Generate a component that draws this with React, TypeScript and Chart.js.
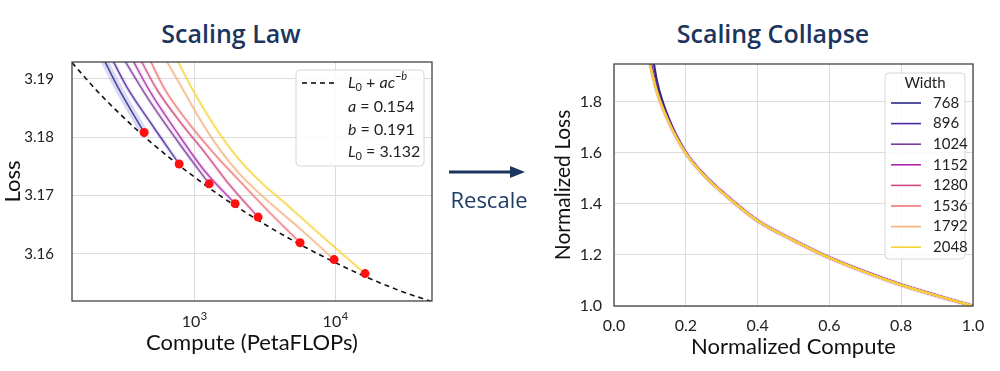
import React, { useEffect, useRef } from 'react';
import { Chart, registerables } from 'chart.js';
Chart.register(...registerables);

// ---------- shared ----------
const WIDTHS = ['768', '896', '1024', '1152', '1280', '1536', '1792', '2048'];
const COLORS = ['#2d2a87', '#4c2aa3', '#7b3a9e', '#ad2bad', '#cf4a82', '#ee7676', '#f2b07c', '#f5d334'];

// ---------- left chart: Scaling Law (compute in PetaFLOPs, loss) ----------
const CURVE_768 = [[212, 3.1950], [289, 3.1885], [442, 3.1808]];
const CURVE_896 = [[242, 3.1950], [335, 3.1885], [487, 3.1826], [783, 3.1754]];
const CURVE_1024 = [[289, 3.1950], [487, 3.1861], [796, 3.1787], [1278, 3.1720]];
const CURVE_1152 = [[335, 3.1950], [487, 3.1878], [733, 3.1813], [1197, 3.1741], [1953, 3.1686]];
const CURVE_1280 = [[382, 3.1950], [547, 3.1881], [796, 3.1826], [1197, 3.1773], [1800, 3.1717], [2844, 3.1663]];
const CURVE_1536 = [[449, 3.1950], [623, 3.1881], [937, 3.1821], [1409, 3.1770], [2120, 3.1724], [3459, 3.1670], [5647, 3.1619]];
const CURVE_1792 = [[574, 3.1950], [836, 3.1881], [1103, 3.1830], [1529, 3.1778], [2120, 3.1736], [3459, 3.1687], [5647, 3.1643], [9838, 3.1590]];
const CURVE_2048 = [[698, 3.1950], [968, 3.1883], [1339, 3.1826], [1953, 3.1770], [2942, 3.1724], [4600, 3.1683], [6900, 3.1645], [10500, 3.1606], [16324, 3.1566]];
const LAW_CURVES = [CURVE_768, CURVE_896, CURVE_1024, CURVE_1152, CURVE_1280, CURVE_1536, CURVE_1792, CURVE_2048];

const OPT_C = [442, 783, 1278, 1953, 2844, 5647, 9838, 16324];
const OPT_L = [3.1808, 3.1754, 3.1720, 3.1686, 3.1663, 3.1619, 3.1590, 3.1566];

const FIT_C = [136, 200, 300, 500, 700, 1000, 1500, 2000, 3000, 5000, 7000, 10000, 15000, 20000, 30000, 48700];
const FIT_L = [3.1928, 3.1882, 3.1839, 3.1790, 3.1761, 3.1732, 3.1701, 3.1681, 3.1654, 3.1623, 3.1604, 3.1585, 3.1565, 3.1552, 3.1535, 3.1518];

const LAW_X_TICKS = [1000, 10000];
const LAW_Y_TICKS = [3.16, 3.17, 3.18, 3.19];

// ---------- right chart: Scaling Collapse ----------
const X_NORM = [0.10, 0.12, 0.15, 0.20, 0.25, 0.30, 0.40, 0.50, 0.60, 0.70, 0.80, 0.90, 1.00];
const NL_768 = [2.05, 1.88, 1.745, 1.603, 1.516, 1.449, 1.335, 1.258, 1.19, 1.134, 1.084, 1.041, 1.0];
const NL_896 = [1.97, 1.85, 1.735, 1.601, 1.515, 1.449, 1.335, 1.258, 1.19, 1.134, 1.084, 1.041, 1.0];
const NL_1024 = [1.96, 1.845, 1.733, 1.601, 1.515, 1.449, 1.335, 1.258, 1.19, 1.133, 1.083, 1.04, 1.0];
const NL_1152 = [1.955, 1.842, 1.731, 1.6, 1.515, 1.448, 1.335, 1.258, 1.189, 1.133, 1.083, 1.04, 1.0];
const NL_1280 = [1.95, 1.84, 1.73, 1.6, 1.514, 1.448, 1.334, 1.257, 1.189, 1.133, 1.083, 1.04, 1.0];
const NL_1536 = [1.948, 1.838, 1.729, 1.599, 1.514, 1.448, 1.334, 1.257, 1.189, 1.133, 1.083, 1.04, 1.0];
const NL_1792 = [1.946, 1.837, 1.728, 1.599, 1.514, 1.447, 1.334, 1.257, 1.189, 1.132, 1.083, 1.04, 1.0];
const NL_2048 = [1.945, 1.836, 1.728, 1.598, 1.513, 1.447, 1.334, 1.257, 1.189, 1.132, 1.082, 1.04, 1.0];
const COLLAPSE = [NL_768, NL_896, NL_1024, NL_1152, NL_1280, NL_1536, NL_1792, NL_2048];
const COLLAPSE_Y_TICKS = [1.0, 1.2, 1.4, 1.6, 1.8];

const FONT = 'Lato, "Noto Sans", sans-serif';
const NAVY = '#1c355e';
const GRID = '#dcdcdc';
const FRAME = '#444444';

function hexA(hex: string, a: number) {
  const n = parseInt(hex.slice(1), 16);
  return `rgba(${(n >> 16) & 255},${(n >> 8) & 255},${n & 255},${a})`;
}

type Seg = { t: string; i?: boolean; sub?: boolean; sup?: boolean };
function drawRich(ctx: CanvasRenderingContext2D, x: number, y: number, segs: Seg[], size: number) {
  let cx = x;
  ctx.textBaseline = 'middle';
  ctx.textAlign = 'left';
  for (const s of segs) {
    const small = s.sub || s.sup;
    const fs = small ? Math.round(size * 0.7) : size;
    ctx.font = `${s.i ? 'italic ' : ''}${fs}px ${FONT}`;
    const dy = s.sub ? size * 0.28 : s.sup ? -size * 0.4 : 0;
    ctx.fillText(s.t, cx, y + dy);
    cx += ctx.measureText(s.t).width;
  }
}

function roundRect(ctx: CanvasRenderingContext2D, x: number, y: number, w: number, h: number, r: number) {
  ctx.beginPath();
  ctx.moveTo(x + r, y);
  ctx.lineTo(x + w - r, y);
  ctx.quadraticCurveTo(x + w, y, x + w, y + r);
  ctx.lineTo(x + w, y + h - r);
  ctx.quadraticCurveTo(x + w, y + h, x + w - r, y + h);
  ctx.lineTo(x + r, y + h);
  ctx.quadraticCurveTo(x, y + h, x, y + h - r);
  ctx.lineTo(x, y + r);
  ctx.quadraticCurveTo(x, y, x + r, y);
  ctx.closePath();
}

const leftDecor = {
  id: 'leftDecor',
  afterDraw(chart: any) {
    const { ctx, chartArea: a, scales } = chart;
    ctx.save();
    // frame
    ctx.strokeStyle = FRAME;
    ctx.lineWidth = 1.3;
    ctx.strokeRect(a.left, a.top, a.right - a.left, a.bottom - a.top);
    // x tick labels 10^n
    ctx.fillStyle = '#222';
    LAW_X_TICKS.forEach((v) => {
      const px = scales.x.getPixelForValue(v);
      const exp = String(Math.round(Math.log10(v)));
      ctx.font = `16px ${FONT}`;
      const w1 = ctx.measureText('10').width;
      ctx.font = `11px ${FONT}`;
      const w2 = ctx.measureText(exp).width;
      const x0 = px - (w1 + w2) / 2;
      ctx.textBaseline = 'middle';
      ctx.textAlign = 'left';
      ctx.font = `16px ${FONT}`;
      ctx.fillText('10', x0, a.bottom + 21);
      ctx.font = `11px ${FONT}`;
      ctx.fillText(exp, x0 + w1 + 0.5, a.bottom + 15);
    });
    // legend
    const bx = 296, by = 70, bw = 128, bh = 96;
    roundRect(ctx, bx, by, bw, bh, 4);
    ctx.fillStyle = 'rgba(255,255,255,0.85)';
    ctx.fill();
    ctx.strokeStyle = '#d6d6d6';
    ctx.lineWidth = 1;
    ctx.stroke();
    ctx.strokeStyle = '#000';
    ctx.lineWidth = 1.6;
    ctx.setLineDash([5, 4]);
    ctx.beginPath();
    ctx.moveTo(302, 83);
    ctx.lineTo(334, 83);
    ctx.stroke();
    ctx.setLineDash([]);
    ctx.fillStyle = '#222';
    const rows: Seg[][] = [
      [{ t: 'L', i: true }, { t: '0', sub: true }, { t: ' + ' }, { t: 'ac', i: true }, { t: '−b', sup: true, i: true }],
      [{ t: 'a', i: true }, { t: ' = 0.154' }],
      [{ t: 'b', i: true }, { t: ' = 0.191' }],
      [{ t: 'L', i: true }, { t: '0', sub: true }, { t: ' = 3.132' }],
    ];
    const ys = [83, 107, 130, 152];
    rows.forEach((r, k) => drawRich(ctx, 348, ys[k], r, 16));
    ctx.restore();
  },
};

const rightDecor = {
  id: 'rightDecor',
  afterDraw(chart: any) {
    const { ctx, chartArea: a } = chart;
    ctx.save();
    ctx.strokeStyle = FRAME;
    ctx.lineWidth = 1.3;
    ctx.strokeRect(a.left, a.top, a.right - a.left, a.bottom - a.top);
    const bx = 340, by = 73, bw = 80, bh = 186;
    roundRect(ctx, bx, by, bw, bh, 4);
    ctx.fillStyle = 'rgba(255,255,255,0.85)';
    ctx.fill();
    ctx.strokeStyle = '#d6d6d6';
    ctx.lineWidth = 1;
    ctx.stroke();
    ctx.fillStyle = '#222';
    ctx.font = `15px ${FONT}`;
    ctx.textAlign = 'center';
    ctx.textBaseline = 'middle';
    ctx.fillText('Width', 380, 83);
    WIDTHS.forEach((w, i) => {
      const y = 103 + i * 20.6;
      ctx.strokeStyle = COLORS[i];
      ctx.lineWidth = 1.6;
      ctx.beginPath();
      ctx.moveTo(346, y);
      ctx.lineTo(376, y);
      ctx.stroke();
      ctx.fillStyle = '#222';
      ctx.textAlign = 'left';
      ctx.fillText(w, 388, y);
    });
    ctx.restore();
  },
};

function leftConfig(): any {
  const datasets: any[] = [];
  datasets.push({
    data: OPT_C.map((c, i) => ({ x: c, y: OPT_L[i] })),
    showLine: false,
    pointRadius: 4.5,
    pointBackgroundColor: '#ff1010',
    pointBorderWidth: 0,
    order: 0,
  });
  datasets.push({
    data: FIT_C.map((c, i) => ({ x: c, y: FIT_L[i] })),
    borderColor: '#111',
    borderWidth: 1.6,
    borderDash: [5, 4],
    pointRadius: 0,
    cubicInterpolationMode: 'monotone',
    order: 1,
  });
  LAW_CURVES.forEach((cv, i) => {
    const pts = cv.map(([x, y]) => ({ x, y }));
    datasets.push({
      data: pts,
      borderColor: hexA(COLORS[i], 0.85),
      borderWidth: 1.5,
      pointRadius: 0,
      cubicInterpolationMode: 'monotone',
      order: 2,
    });
    datasets.push({
      data: pts,
      borderColor: i === 0 ? 'rgba(130,130,215,0.3)' : hexA(COLORS[i], 0.14),
      borderWidth: i === 0 ? 8 : 4,
      pointRadius: 0,
      cubicInterpolationMode: 'monotone',
      order: 20,
    });
  });
  return {
    type: 'line',
    data: { datasets },
    options: {
      animation: false,
      responsive: false,
      events: [],
      layout: { padding: { top: 62, right: 13, bottom: 0, left: 0 } },
      plugins: { legend: { display: false }, tooltip: { enabled: false }, title: { display: false } },
      scales: {
        x: {
          type: 'logarithmic',
          min: 136,
          max: 48700,
          afterBuildTicks: (s: any) => { s.ticks = LAW_X_TICKS.map((v) => ({ value: v })); },
          afterFit: (s: any) => { s.height = 70; },
          ticks: { display: false },
          grid: { color: GRID, drawTicks: false, lineWidth: 1 },
          border: { display: false },
          title: { display: true, text: 'Compute (PetaFLOPs)', color: '#111', font: { family: FONT, size: 22 }, padding: { top: 0, bottom: 15 } },
        },
        y: {
          type: 'linear',
          min: 3.1519,
          max: 3.1929,
          afterBuildTicks: (s: any) => { s.ticks = LAW_Y_TICKS.map((v) => ({ value: v })); },
          afterFit: (s: any) => { s.width = 72; },
          ticks: { callback: (v: any) => Number(v).toFixed(2), color: '#222', font: { family: FONT, size: 15 }, padding: 18 },
          grid: { color: GRID, drawTicks: false, lineWidth: 1 },
          border: { display: false },
          title: { display: true, text: 'Loss', color: '#111', font: { family: FONT, size: 22 }, padding: { top: 0, bottom: 0 } },
        },
      },
    },
    plugins: [leftDecor],
  };
}

function rightConfig(): any {
  const datasets: any[] = [];
  COLLAPSE.forEach((ys, i) => {
    datasets.push({
      data: X_NORM.map((x, j) => ({ x, y: ys[j] })),
      borderColor: COLORS[i],
      borderWidth: 2.2,
      pointRadius: 0,
      cubicInterpolationMode: 'monotone',
      order: 10 - i,
    });
  });
  datasets.push({
    data: X_NORM.map((x, j) => ({ x, y: NL_1024[j] })),
    borderColor: 'rgba(190,130,230,0.3)',
    borderWidth: 5,
    pointRadius: 0,
    cubicInterpolationMode: 'monotone',
    order: 30,
  });
  return {
    type: 'line',
    data: { datasets },
    options: {
      animation: false,
      responsive: false,
      events: [],
      layout: { padding: { top: 64, right: 27, bottom: 0, left: 0 } },
      plugins: { legend: { display: false }, tooltip: { enabled: false }, title: { display: false } },
      scales: {
        x: {
          type: 'linear',
          min: 0,
          max: 1,
          ticks: { stepSize: 0.2, callback: (v: any) => Number(v).toFixed(1), color: '#222', font: { family: FONT, size: 16 }, padding: 10, maxRotation: 0 },
          afterFit: (s: any) => { s.height = 65; },
          grid: { color: GRID, drawTicks: false, lineWidth: 1 },
          border: { display: false },
          title: { display: true, text: 'Normalized Compute', color: '#111', font: { family: FONT, size: 22 }, padding: { top: 0, bottom: 11 } },
        },
        y: {
          type: 'linear',
          min: 1.0,
          max: 1.949,
          afterBuildTicks: (s: any) => { s.ticks = COLLAPSE_Y_TICKS.map((v) => ({ value: v })); },
          afterFit: (s: any) => { s.width = 69; },
          ticks: { callback: (v: any) => Number(v).toFixed(1), color: '#222', font: { family: FONT, size: 16 }, padding: 12 },
          grid: { color: GRID, drawTicks: false, lineWidth: 1 },
          border: { display: false },
          title: { display: true, text: 'Normalized Loss', color: '#111', font: { family: FONT, size: 21 }, padding: { top: 6, bottom: 0 } },
        },
      },
    },
    plugins: [rightDecor],
  };
}

export default function App() {
  const leftRef = useRef<HTMLCanvasElement | null>(null);
  const rightRef = useRef<HTMLCanvasElement | null>(null);

  useEffect(() => {
    const l = new Chart(leftRef.current as HTMLCanvasElement, leftConfig());
    const r = new Chart(rightRef.current as HTMLCanvasElement, rightConfig());
    return () => {
      l.destroy();
      r.destroy();
    };
  }, []);

  const titleStyle: React.CSSProperties = {
    position: 'absolute',
    width: 320,
    textAlign: 'center',
    fontFamily: '"Open Sans", sans-serif',
    fontWeight: 600,
    fontSize: 25,
    lineHeight: '30px',
    color: NAVY,
    top: 18,
    whiteSpace: 'nowrap',
  };

  return (
    <div style={{ position: 'absolute', left: 0, top: 0, width: 1000, height: 371, background: '#fff', overflow: 'hidden' }}>
      <div style={{ ...titleStyle, left: 231 - 160 }}>Scaling Law</div>
      <div style={{ ...titleStyle, left: 773 - 160 }}>Scaling Collapse</div>
      <canvas ref={leftRef} width={445} height={371} style={{ position: 'absolute', left: 0, top: 0, width: 445, height: 371 }} />
      <canvas ref={rightRef} width={455} height={371} style={{ position: 'absolute', left: 545, top: 0, width: 455, height: 371 }} />
      <svg width={100} height={30} style={{ position: 'absolute', left: 440, top: 157 }}>
        <line x1={9} y1={15} x2={72} y2={15} stroke={NAVY} strokeWidth={3} />
        <polygon points="70,9 85,15 70,21" fill={NAVY} />
      </svg>
      <div
        style={{
          position: 'absolute',
          left: 429,
          width: 120,
          top: 185,
          lineHeight: '28px',
          textAlign: 'center',
          fontFamily: '"Open Sans", sans-serif',
          fontSize: 22,
          color: '#1f3b66',
        }}
      >
        Rescale
      </div>
    </div>
  );
}
